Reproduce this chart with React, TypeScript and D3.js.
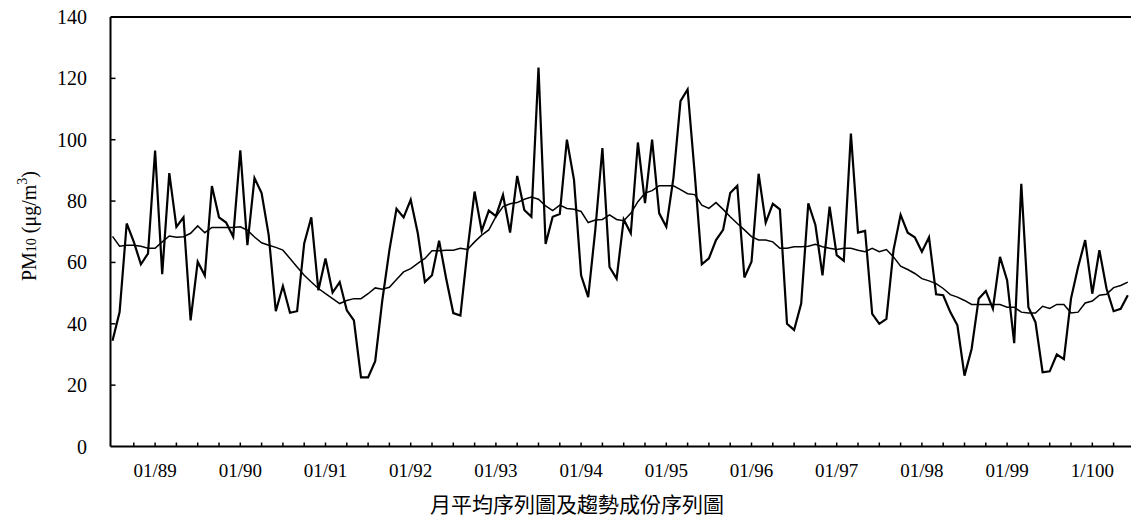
import React from "react";
import * as d3 from "d3";

const monthly: number[] = [
  34.5, 43.8, 72.7, 66.7, 59.4, 62.9, 96.5, 56.2, 89.1, 71.6, 74.7, 41.1,
  60.2, 55.7, 84.9, 74.7, 73.0, 68.4, 96.5, 65.6, 87.5, 82.6, 68.9, 44.1,
  52.3, 43.6, 44.1, 66.2, 74.7, 50.9, 61.3, 50.2, 53.6, 44.4, 41.1, 22.5,
  22.5, 27.8, 47.6, 64.0, 77.5, 74.7, 80.4, 69.5, 53.6, 55.8, 67.1, 54.7,
  43.5, 42.7, 64.0, 83.1, 70.3, 76.9, 75.1, 82.0, 69.7, 88.2, 77.1, 74.9,
  123.5, 66.0, 74.9, 75.8, 100.0, 86.9, 55.8, 48.7, 70.6, 97.3, 58.5, 54.7,
  74.0, 69.5, 99.1, 79.3, 100.0, 76.0, 71.6, 87.5, 112.6, 116.4, 89.0, 59.4,
  61.3, 67.3, 70.6, 82.6, 85.0, 55.1, 60.2, 88.9, 73.0, 79.1, 77.3, 40.0,
  38.0, 46.6, 79.3, 72.2, 55.8, 78.2, 62.4, 60.5, 102.0, 69.7, 70.3, 43.2,
  40.0, 41.6, 64.0, 75.5, 69.7, 68.2, 63.5, 68.2, 49.6, 49.3, 43.8, 39.5,
  23.1, 31.8, 48.2, 50.7, 44.9, 61.8, 54.2, 33.7, 85.6, 45.4, 40.5, 24.2,
  24.5, 30.0, 28.5, 48.2, 58.5, 67.3, 49.8, 64.0, 51.5, 44.1, 44.9, 49.3,
];

const trend: number[] = [
  68.5, 65.3, 65.6, 65.6, 65.3, 64.6, 64.6, 66.7, 68.6, 68.2, 68.4, 69.5,
  71.9, 69.7, 71.4, 71.4, 71.4, 71.4, 71.6, 70.5, 68.3, 66.4, 65.6, 64.9,
  64.0, 61.3, 58.5, 55.8, 53.6, 51.5, 49.8, 48.2, 46.6, 47.6, 48.2, 48.2,
  49.8, 51.7, 51.3, 51.9, 54.4, 56.9, 58.0, 59.7, 61.3, 63.8, 63.8, 64.0,
  64.0, 64.6, 64.2, 66.7, 68.9, 70.6, 74.9, 78.2, 79.1, 79.5, 80.6, 81.3,
  80.6, 78.4, 76.9, 78.7, 77.6, 77.3, 76.6, 73.0, 73.8, 74.0, 75.5, 74.0,
  73.6, 76.0, 79.8, 82.6, 83.4, 85.0, 85.0, 85.0, 83.7, 82.4, 82.1, 78.7,
  77.6, 79.5, 77.3, 74.9, 72.7, 70.6, 68.4, 67.3, 67.3, 66.7, 64.6, 64.6,
  65.1, 65.1, 65.3, 65.9, 65.1, 64.6, 64.2, 64.6, 64.6, 64.0, 63.5, 64.6,
  63.5, 64.2, 61.8, 58.8, 57.7, 56.4, 54.7, 54.0, 53.1, 51.5, 49.5, 48.7,
  47.6, 46.3, 46.3, 46.3, 46.3, 46.3, 45.4, 45.4, 43.8, 43.5, 43.5, 45.7,
  45.0, 46.3, 46.3, 43.5, 43.8, 46.8, 47.4, 49.3, 49.6, 51.8, 52.5, 53.6,
];

const yTicks: number[] = [0, 20, 40, 60, 80, 100, 120, 140];
const xLabels: string[] = [
  "01/89", "01/90", "01/91", "01/92", "01/93", "01/94",
  "01/95", "01/96", "01/97", "01/98", "01/99", "1/100",
];
const firstJanuaryIndex = 6;
const yTitle = "PM";
const yTitleSub = "10";
const yTitleUnit = " (μg/m";
const yTitleSup = "3";
const chartTitle = "月平均序列圖及趨勢成份序列圖";

const W = 1131;
const H = 523;
const left = 110.5;
const right = 1131;
const top = 17;
const bottom = 446.5;

export default function App() {
  const x = d3.scaleLinear().domain([0, 143]).range([112.5, 1127.8]);
  const y = d3.scaleLinear().domain([0, 140]).range([bottom, top]);

  const line = d3
    .line<number>()
    .x((_, i) => x(i))
    .y((d) => y(d));

  const quarterTicks = d3.range(3, monthly.length, 3);
  const serif = "'Liberation Serif', 'Times New Roman', serif";

  return (
    <svg
      width={W}
      height={H}
      viewBox={`0 0 ${W} ${H}`}
      style={{ position: "absolute", left: 0, top: 0, background: "#fff" }}
    >
      <rect x={0} y={0} width={W} height={H} fill="#fff" />
      {/* frame */}
      <line x1={left} x2={right} y1={top} y2={top} stroke="#000" strokeWidth={2} />
      <line x1={left} x2={left} y1={top} y2={bottom} stroke="#000" strokeWidth={2} />
      <line x1={left} x2={right} y1={bottom} y2={bottom} stroke="#000" strokeWidth={2} />

      {/* y ticks and labels */}
      {yTicks.map((t) => (
        <g key={t}>
          {t > 0 && t < 140 && (
            <line x1={left} x2={left + 5} y1={y(t)} y2={y(t)} stroke="#000" strokeWidth={1.5} />
          )}
          <text
            x={87}
            y={y(t)}
            dy="0.35em"
            textAnchor="end"
            fontFamily={serif}
            fontSize={20}
            fill="#000"
          >
            {t}
          </text>
        </g>
      ))}

      {/* x ticks */}
      {quarterTicks.map((m) => (
        <line key={m} x1={x(m)} x2={x(m)} y1={bottom} y2={bottom - 4} stroke="#000" strokeWidth={1.5} />
      ))}
      {xLabels.map((lab, k) => (
        <text
          key={lab}
          x={x(firstJanuaryIndex + 12 * k)}
          y={477}
          textAnchor="middle"
          fontFamily={serif}
          fontSize={19}
          fill="#000"
        >
          {lab}
        </text>
      ))}

      {/* series */}
      <path d={line(trend) || ""} fill="none" stroke="#000" strokeWidth={1.5} />
      <path d={line(monthly) || ""} fill="none" stroke="#000" strokeWidth={2.2} strokeLinejoin="miter" />

      {/* y title */}
      <text
        transform="translate(36,226) rotate(-90)"
        textAnchor="middle"
        fontFamily={serif}
        fontSize={20}
        fill="#000"
      >
        {yTitle}
        <tspan fontSize={14}>{yTitleSub}</tspan>
        {yTitleUnit}
        <tspan fontSize={14} dy={-9}>{yTitleSup}</tspan>
        <tspan dy={9}>)</tspan>
      </text>

      {/* chart title */}
      <text
        x={577}
        y={512}
        textAnchor="middle"
        fontFamily="'Noto Sans CJK TC', 'Noto Sans CJK SC', sans-serif"
        fontSize={21}
        fill="#000"
      >
        {chartTitle}
      </text>
    </svg>
  );
}
